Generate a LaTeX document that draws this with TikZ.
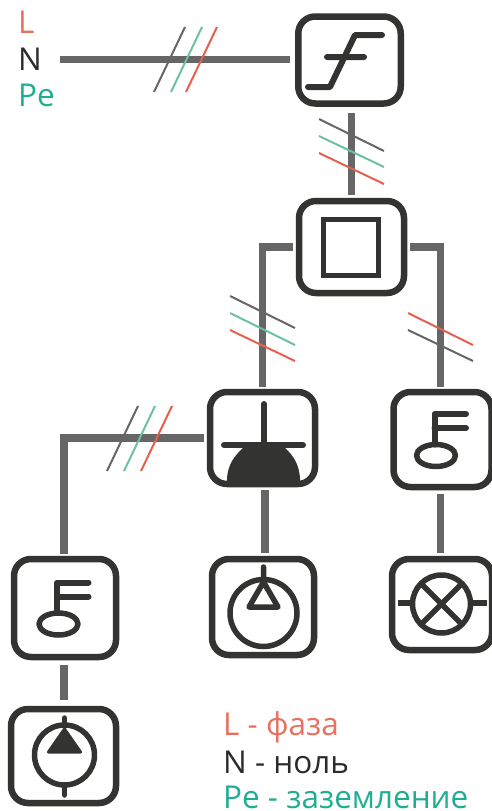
\documentclass[tikz,border=0pt]{standalone}
\usepackage{fontspec}
\setmainfont{Open Sans}
\definecolor{darkline}{HTML}{333331}
\definecolor{wiregray}{HTML}{666666}
\definecolor{tickred}{HTML}{E6604F}
\definecolor{tickteal}{HTML}{6DBFA6}
\definecolor{textred}{HTML}{E8705F}
\definecolor{textteal}{HTML}{1FAE91}
\definecolor{textdark}{HTML}{2B2B2B}
\newcommand{\keyicon}[1]{
	\begin{scope}[shift={(#1)}]
		\draw[glyph, line width=6pt] (23.5,-25.5) -- (-8,-25.5) -- (-8,5) (-8,-11.5) -- (23.5,-11.5);
		\draw[glyph] (-6.5,16) ellipse (19.5 and 11);
	\end{scope}
}
\tikzset{
	x=1pt, y=-1pt,
	devbox/.style={draw=darkline, line width=6.5pt, rounded corners=17pt, outer sep=0pt, inner sep=0pt},
	wire/.style={draw=wiregray, line width=7.5pt},
	tick/.style={line width=2pt},
	glyph/.style={draw=darkline, line width=5.5pt, line cap=round, line join=round},
	lab/.style={anchor=base west, inner sep=0pt, font=\fontsize{31.5}{38}\selectfont}
}
\begin{document}
\begin{tikzpicture}
	\useasboundingbox (0,0) rectangle (492,811);
	% devices
	\node[devbox, minimum width=102.5pt, minimum height=87pt] (brk) at (349.5,60) {};
	\node[devbox, minimum width=105pt, minimum height=92pt] (sw) at (351.5,247) {};
	\node[devbox, minimum width=105pt, minimum height=92pt] (dome) at (262.5,438) {};
	\node[devbox, minimum width=98pt, minimum height=95pt] (keyr) at (442.5,439.5) {};
	\node[devbox, minimum width=102pt, minimum height=98pt] (keyl) at (65,608) {};
	\node[devbox, minimum width=105pt, minimum height=94pt] (pump) at (63.5,756) {};
	\node[devbox, minimum width=102pt, minimum height=96pt] (disp) at (263,607) {};
	\node[devbox, minimum width=100pt, minimum height=91pt] (lamp) at (442,604.5) {};
	\coordinate (inlet) at (60,59.5);
	% wires
	\draw[wire, shorten >=8.5pt] (inlet) -- (inlet -| brk.west);
	\draw[wire, shorten <=9.5pt, shorten >=6pt] (brk.south -| sw.north) -- (sw.north);
	\draw[wire, shorten <=6pt, shorten >=5pt] (sw.west) -| (dome.north);
	\draw[wire, shorten <=6pt, shorten >=5pt] (sw.east) -| ([xshift=-2pt]keyr.north);
	\draw[wire, shorten <=6pt, shorten >=5pt] (dome.west) -| ([xshift=-1pt]keyl.north);
	\draw[wire, shorten <=6pt, shorten >=6pt] ([xshift=2.5pt]dome.south) -- ([xshift=2pt]disp.north);
	\draw[wire, shorten <=7pt, shorten >=6pt] ([xshift=-2pt]keyr.south) -- ([xshift=-1.5pt]lamp.north);
	\draw[wire, shorten <=8pt, shorten >=9pt] ([xshift=-1pt]keyl.south) -- ([xshift=-1pt]keyl.south |- pump.north);
	% ticks
	\draw[tick, wiregray] (154,92) -- (185,27);
	\draw[tick, tickteal] (171,92) -- (202,27);
	\draw[tick, tickred] (186,92) -- (217,27);
	\draw[tick, wiregray] (319,119) -- (384,151);
	\draw[tick, tickteal] (319,136) -- (384,167);
	\draw[tick, tickred] (319,153) -- (384,184);
	\draw[tick, wiregray] (230,296) -- (295,328);
	\draw[tick, tickteal] (230,313) -- (295,345);
	\draw[tick, tickred] (230,330) -- (295,361);
	\draw[tick, tickred] (408,313) -- (473,345);
	\draw[tick, wiregray] (408,330) -- (473,361);
	\draw[tick, wiregray] (107,471) -- (138,406);
	\draw[tick, tickteal] (124,471) -- (155,406);
	\draw[tick, tickred] (141,471) -- (172,406);
	% breaker
	\draw[glyph, line width=6pt] (308,87) -- (330,87) -- (355,35) -- (382,35) (327,57) -- (364,57);
	% switch
	\draw[draw=darkline, line width=5pt] (323.5,219.5) rectangle (378,275.5);
	% dome
	\fill[darkline] (227,485) -- (227,478) .. controls (228,465) and (234,456) .. (243,448) -- (285,448) .. controls (294,456) and (299,465) .. (300,478) -- (300,485) -- cycle;
	\draw[glyph, line width=6pt] (264,404) -- (264,445) (224,445) -- (303,445);
	% keys
	\keyicon{keyr.center}
	\keyicon{keyl.center}
	% open circle
	\draw[glyph] (263.5,613) circle (33.5);
	\draw[glyph] (263.5,567) -- (263.5,582) -- (278,607) -- (249,607) -- (263.5,582);
	% pump
	\draw[glyph] (64.5,755) circle (30);
	\draw[glyph] (64.5,718) -- (64.5,725) (64.5,785) -- (64.5,795);
	\draw[glyph, fill=darkline, line width=3pt] (64.5,729) -- (80.5,752) -- (48.5,752) -- cycle;
	% lamp
	\draw[glyph] (441.5,604) circle (29);
	\draw[glyph, line cap=butt] (421,583.5) -- (462,624.5) (462,583.5) -- (421,624.5);
	\draw[glyph, line cap=butt] (398,603) -- (412,603) (471,603) -- (487,603);
	% legends
	\node[lab, textred] (topl) at (18,33) {L};
	\node[lab, textdark] (topn) at (18,70) {N};
	\node[lab, textteal] (toppe) at (18,106) {Pe};
	\node[lab, textred] (legl) at (223,735) {L - фаза};
	\node[lab, textdark] (legn) at (223,773) {N - ноль};
	\node[lab, textteal] (legpe) at (223,808) {Pe - заземление};
\end{tikzpicture}
\end{document}
